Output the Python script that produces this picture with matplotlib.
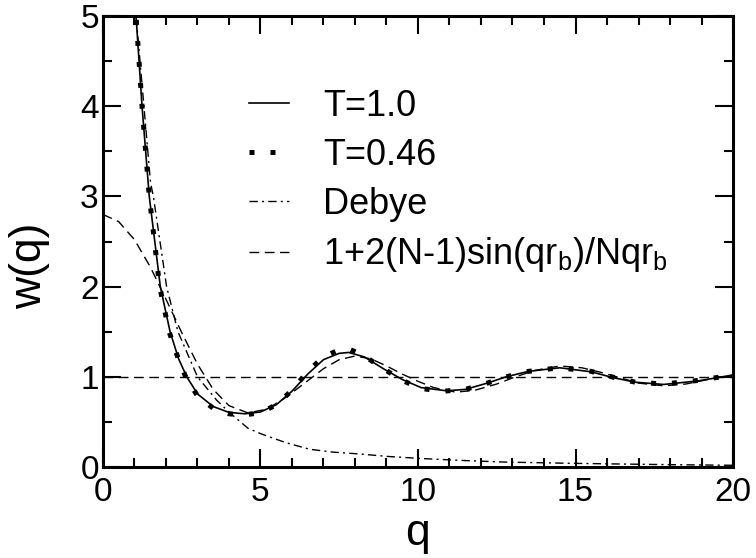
import matplotlib
matplotlib.use("Agg")
import matplotlib.pyplot as plt
from matplotlib.ticker import MultipleLocator

plt.rcParams['font.family'] = ['Liberation Sans', 'DejaVu Sans']
plt.rcParams['mathtext.fontset'] = 'custom'
plt.rcParams['mathtext.rm'] = 'Liberation Sans'
plt.rcParams['mathtext.it'] = 'Liberation Sans'

# T=1.0 (solid)
q_t10 = [1.00, 1.05, 1.24, 1.47, 1.82, 2.13, 2.40, 2.66, 3.00, 3.50, 4.00, 4.50, 5.00,
         5.50, 6.00, 6.50, 7.00, 7.50, 7.80, 8.30, 8.90, 9.50, 10.10, 10.90, 11.50,
         12.20, 12.80, 13.50, 14.50, 15.50, 16.20, 16.90, 17.80, 18.90, 20.00]
w_t10 = [5.30, 5.00, 4.00, 3.00, 2.00, 1.50, 1.20, 1.00, 0.81, 0.67, 0.605, 0.59, 0.61,
         0.69, 0.84, 1.03, 1.19, 1.26, 1.27, 1.22, 1.09, 0.97, 0.88, 0.845, 0.86,
         0.93, 1.00, 1.06, 1.10, 1.055, 0.99, 0.94, 0.915, 0.955, 1.02]

# T=0.46 (dotted, square dots)
q_t046 = [1.00, 1.05, 1.24, 1.47, 1.80, 2.10, 2.40, 2.65, 3.00, 3.50, 4.00, 4.40, 5.00,
          5.50, 6.00, 6.50, 7.00, 7.50, 7.80, 8.30, 8.90, 9.50, 10.10, 10.80, 11.50,
          12.20, 12.80, 13.50, 14.50, 15.50, 16.20, 16.90, 17.80, 18.90, 20.00]
w_t046 = [5.30, 5.00, 4.00, 3.00, 2.00, 1.50, 1.19, 0.98, 0.79, 0.65, 0.59, 0.575, 0.60,
          0.69, 0.85, 1.06, 1.22, 1.30, 1.31, 1.23, 1.09, 0.96, 0.87, 0.84, 0.86,
          0.93, 1.00, 1.06, 1.10, 1.06, 0.995, 0.94, 0.92, 0.96, 1.02]

# Debye (dash-dot)
q_debye = [1.00, 1.05, 1.30, 1.51, 1.60, 1.81, 2.02, 2.38, 3.00, 3.61, 4.03, 4.60,
           5.00, 5.80, 6.57, 7.30, 8.16, 9.00, 10.00, 11.30, 12.70, 14.50, 16.40, 18.20, 20.00]
w_debye = [5.50, 5.00, 4.00, 3.15, 3.00, 2.50, 2.00, 1.50, 1.00, 0.74, 0.60, 0.43,
           0.37, 0.27, 0.196, 0.165, 0.144, 0.118, 0.096, 0.074, 0.055, 0.043, 0.033, 0.025, 0.019]

# 1+2(N-1)sin(q r_b)/(N q r_b) (dashed)
q_sinc = [0.0, 0.5, 1.0, 1.5, 2.0, 2.5, 3.0, 3.5, 4.0, 4.6, 5.2, 5.8, 6.4, 7.0, 7.5,
          8.0, 8.5, 9.0, 9.5, 10.0, 10.5, 11.2, 11.8, 12.5, 13.1, 13.7, 14.5, 15.2,
          15.8, 16.3, 17.0, 17.8, 18.5, 19.2, 20.0]
w_sinc = [2.80, 2.72, 2.52, 2.22, 1.86, 1.49, 1.14, 0.86, 0.68, 0.60, 0.64, 0.77, 0.93,
          1.09, 1.19, 1.23, 1.20, 1.12, 1.03, 0.95, 0.88, 0.83, 0.85, 0.92, 1.00, 1.07,
          1.12, 1.10, 1.05, 1.00, 0.93, 0.90, 0.92, 0.97, 1.02]

ref_level = 1.0

fig = plt.figure(figsize=(7.56, 5.58), dpi=100)
ax = fig.add_axes([0.1362, 0.1631, 0.8334, 0.8082])

ax.axhline(ref_level, color='black', lw=1.0, ls=(0, (7, 4)))
ax.plot(q_t10, w_t10, color='black', lw=1.2, label='T=1.0')
ax.plot(q_t046, w_t046, color='black', lw=3.6, ls=(0, (1, 3.2)),
        dash_capstyle='butt', label='T=0.46')
ax.plot(q_debye, w_debye, color='black', lw=1.0, ls=(0, (6, 3, 1.5, 3)), label='Debye')
ax.plot(q_sinc, w_sinc, color='black', lw=1.0, ls=(0, (7, 4)),
        label=r'1+2(N-1)sin(qr$_\mathrm{b}$)/Nqr$_\mathrm{b}$')

ax.set_xlim(0, 20)
ax.set_ylim(0, 5)
ax.xaxis.set_major_locator(MultipleLocator(5))
ax.xaxis.set_minor_locator(MultipleLocator(1))
ax.yaxis.set_major_locator(MultipleLocator(1))
ax.yaxis.set_minor_locator(MultipleLocator(0.5))
ax.tick_params(which='both', direction='in', top=True, right=True, width=1.5)
ax.tick_params(which='major', length=13, labelsize=24)
ax.tick_params(axis='x', which='major', pad=7)
ax.tick_params(axis='y', which='major', pad=3)
ax.tick_params(which='minor', length=6.5)
for s in ax.spines.values():
    s.set_linewidth(2.2)

ax.set_xlabel('q', fontsize=32, labelpad=4)
ax.set_ylabel('w(q)', fontsize=32)
ax.yaxis.set_label_coords(-0.084, 0.446)

leg = ax.legend(loc='upper left', bbox_to_anchor=(0.209, 0.87), frameon=False,
                fontsize=26, handlelength=1.1, handletextpad=0.95, labelspacing=0.38,
                borderaxespad=0)

fig.savefig('out.png', dpi=100)
